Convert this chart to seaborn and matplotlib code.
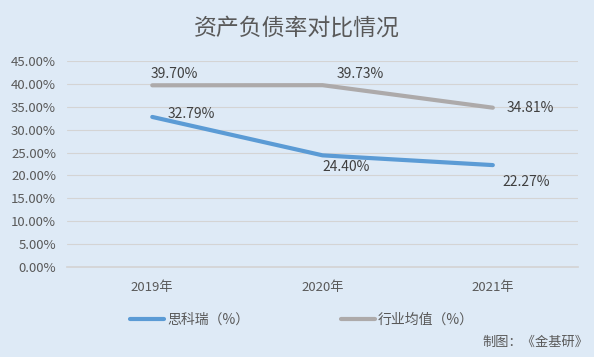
import pandas as pd
import matplotlib.pyplot as plt
import matplotlib.ticker as mticker
import seaborn as sns

# data
years = ['2019年', '2020年', '2021年']
sikerui = [32.79, 24.40, 22.27]
industry = [39.70, 39.73, 34.81]
series_names = ['思科瑞（%）', '行业均值（%）']

BG = '#DEEAF6'
COLORS = ['#5B9BD5', '#ADAAAA']

sns.set_theme(style='white')
plt.rcParams['font.family'] = ['Noto Sans CJK SC', 'DejaVu Sans']

df = pd.DataFrame({
    'year': years * 2,
    'value': sikerui + industry,
    'series': [series_names[0]] * 3 + [series_names[1]] * 3,
})

fig = plt.figure(figsize=(5.94, 3.57), dpi=100, facecolor=BG)
ax = fig.add_axes([0.113, 0.252, 0.860, 0.577], facecolor=BG)

sns.lineplot(data=df, x='year', y='value', hue='series', palette=COLORS,
             linewidth=3, ax=ax, legend=False, sort=False)

ax.set_xlim(-0.5, 2.5)
ax.set_ylim(0, 45)
ax.yaxis.set_major_locator(mticker.MultipleLocator(5))
ax.yaxis.set_major_formatter(mticker.FuncFormatter(lambda v, _: f'{v:.2f}%'))
ax.grid(axis='y', color='#D4D4D4', linewidth=0.8)
ax.set_axisbelow(True)
for s in ['top', 'right', 'left']:
    ax.spines[s].set_visible(False)
ax.spines['bottom'].set_color('#D4D4D4')
ax.tick_params(axis='both', length=0, labelsize=9.5, labelcolor='#595959')
ax.tick_params(axis='x', pad=10)
ax.tick_params(axis='y', pad=8)
ax.set_xlabel('')
ax.set_ylabel('')

# data labels (offsets in points)
lab_kw = dict(textcoords='offset points', fontsize=10, color='#404040')
offs_blue = [(11, 2, 'left', 'center'), (0, -3, 'left', 'top'), (7, -7, 'left', 'top')]
offs_gray = [(-1, 3, 'left', 'bottom'), (10, 3, 'left', 'bottom'), (10, 0, 'left', 'center')]
for i, v in enumerate(sikerui):
    dx, dy, ha, va = offs_blue[i]
    ax.annotate(f'{v:.2f}%', (i, v), xytext=(dx, dy), ha=ha, va=va, **lab_kw)
for i, v in enumerate(industry):
    dx, dy, ha, va = offs_gray[i]
    ax.annotate(f'{v:.2f}%', (i, v), xytext=(dx, dy), ha=ha, va=va, **lab_kw)

fig.text(0.5, 0.92, '资产负债率对比情况', ha='center', va='center',
         fontsize=16.5, color='#595959')

# legend
handles = [plt.Line2D([], [], color=c, linewidth=3, solid_capstyle='round') for c in COLORS]
fig.legend(handles, series_names, loc='center left', bbox_to_anchor=(0.219, 0.104),
           ncol=2, frameon=False, fontsize=10, columnspacing=6.6, borderpad=0,
           borderaxespad=0, handlelength=2.45, handletextpad=0.2, labelcolor='#595959')

fig.text(0.991, 0.04, '制图：《金基研》', ha='right', va='center',
         fontsize=9.5, color='#595959')

fig.savefig('out.png', dpi=100, facecolor=BG)
